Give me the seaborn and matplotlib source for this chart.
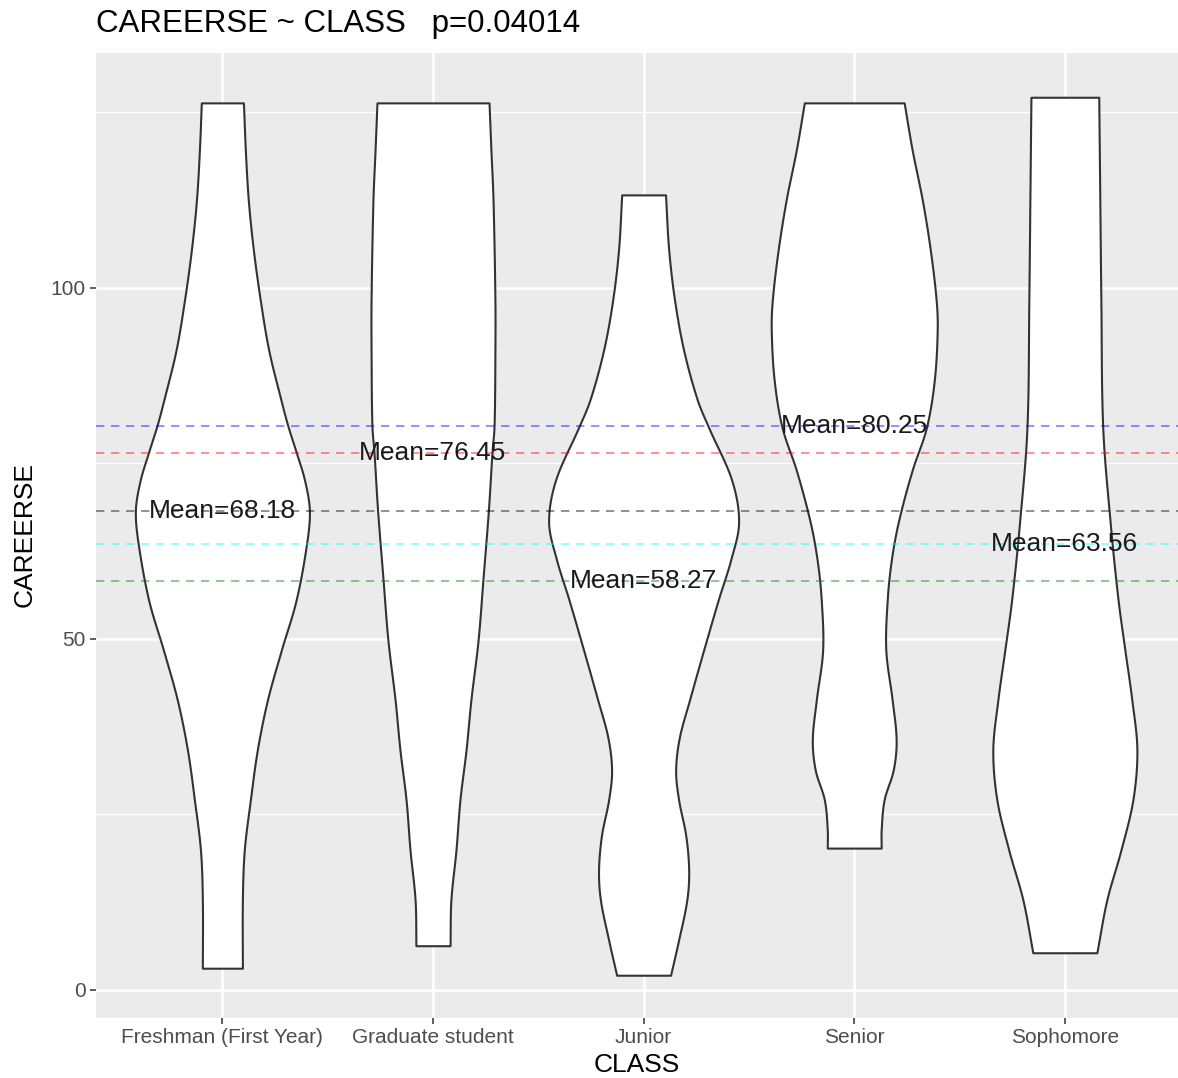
import numpy as np
import pandas as pd
import matplotlib
matplotlib.use("Agg")
import matplotlib.pyplot as plt
from matplotlib.ticker import FixedLocator
import seaborn as sns

# Groups, group means and the colour of each mean line
classes = ["Freshman (First Year)", "Graduate student", "Junior", "Senior", "Sophomore"]
means = [68.18, 76.45, 58.27, 80.25, 63.56]
mean_colors = ["black", "red", "green", "blue", "cyan"]
p_value = 0.04014

# Violin outlines: CAREERSE level and half-width (in category units) at that level
fresh_y = [3.1, 12.8, 19.9, 27.1, 34.2, 41.3, 48.4, 55.5, 63.6, 68.3, 72.6, 76.6, 80.4, 84.0, 91.1, 98.2, 105.4, 112.5, 119.6, 126.3]
fresh_w = [0.095, 0.095, 0.104, 0.133, 0.166, 0.214, 0.280, 0.350, 0.400, 0.413, 0.390, 0.350, 0.310, 0.278, 0.220, 0.180, 0.147, 0.123, 0.109, 0.100]

grad_y = [6.3, 12.8, 19.9, 27.1, 34.2, 41.3, 49.8, 58.4, 68.3, 76.5, 80.4, 91.1, 98.2, 112.5, 119.6, 126.3]
grad_w = [0.081, 0.085, 0.109, 0.128, 0.157, 0.180, 0.214, 0.237, 0.263, 0.280, 0.290, 0.294, 0.294, 0.285, 0.275, 0.266]

junior_y = [2.1, 7.1, 12.8, 17.0, 22.0, 27.1, 31.3, 36.0, 41.3, 48.4, 55.7, 61.2, 66.6, 72.6, 80.0, 84.0, 91.1, 98.2, 105.4, 113.2]
junior_w = [0.128, 0.166, 0.205, 0.214, 0.200, 0.166, 0.152, 0.170, 0.218, 0.285, 0.356, 0.413, 0.451, 0.418, 0.310, 0.255, 0.190, 0.147, 0.119, 0.104]

senior_y = [20.2, 22.8, 27.1, 31.3, 35.6, 41.3, 48.4, 55.7, 61.2, 66.6, 74.0, 80.0, 86.8, 94.0, 98.2, 105.4, 112.5, 119.6, 126.3]
senior_w = [0.128, 0.128, 0.142, 0.185, 0.199, 0.180, 0.150, 0.157, 0.176, 0.209, 0.275, 0.342, 0.380, 0.394, 0.389, 0.361, 0.323, 0.275, 0.237]

soph_y = [5.3, 12.8, 19.9, 27.1, 34.2, 41.3, 48.4, 55.7, 66.6, 80.0, 98.2, 112.5, 127.1]
soph_w = [0.152, 0.199, 0.266, 0.323, 0.342, 0.318, 0.285, 0.252, 0.215, 0.180, 0.171, 0.166, 0.161]

profiles = pd.concat([
    pd.DataFrame({"CLASS": name, "CAREERSE": y, "half_width": w})
    for name, y, w in [
        (classes[0], fresh_y, fresh_w),
        (classes[1], grad_y, grad_w),
        (classes[2], junior_y, junior_w),
        (classes[3], senior_y, senior_w),
        (classes[4], soph_y, soph_w),
    ]
], ignore_index=True)


def smooth_outline(y, w, n=400):
    """Cubic Hermite curve through the outline points, for a rounded violin edge."""
    y = np.asarray(y, float)
    w = np.asarray(w, float)
    m = np.empty_like(w)
    m[1:-1] = (w[2:] - w[:-2]) / (y[2:] - y[:-2])
    m[0] = (w[1] - w[0]) / (y[1] - y[0])
    m[-1] = (w[-1] - w[-2]) / (y[-1] - y[-2])
    yy = np.linspace(y[0], y[-1], n)
    k = np.clip(np.searchsorted(y, yy, side="right") - 1, 0, len(y) - 2)
    h = y[k + 1] - y[k]
    t = (yy - y[k]) / h
    h00 = 2 * t**3 - 3 * t**2 + 1
    h10 = t**3 - 2 * t**2 + t
    h01 = -2 * t**3 + 3 * t**2
    h11 = t**3 - t**2
    ww = h00 * w[k] + h10 * h * m[k] + h01 * w[k + 1] + h11 * h * m[k + 1]
    return yy, ww


# ggplot-like grey theme
sns.set_theme(style="darkgrid", rc={
    "axes.facecolor": "#EBEBEB",
    "figure.facecolor": "white",
    "grid.color": "white",
    "axes.edgecolor": "#EBEBEB",
})
plt.rcParams["font.family"] = ["Liberation Sans", "DejaVu Sans"]

W, H = 1178, 1078
fig = plt.figure(figsize=(W / 100, H / 100), dpi=100)
ax = fig.add_axes([96 / W, 60 / H, 1 - 96 / W, (1018 - 53) / H])

# Violins
for i, name in enumerate(classes):
    d = profiles[profiles["CLASS"] == name]
    yy, ww = smooth_outline(d["CAREERSE"], d["half_width"])
    ax.fill_betweenx(yy, i - ww, i + ww, facecolor="white", edgecolor="#333333",
                     linewidth=1.5, zorder=2)

# Mean reference lines and labels
for m, c in zip(means, mean_colors):
    ax.axhline(m, color=c, linestyle=(0, (5, 4)), linewidth=1.2, alpha=0.5, zorder=3)
for i, m in enumerate(means):
    ax.text(i, m, f"Mean={m:.2f}", ha="center", va="center", fontsize=19,
            color="#1A1A1A", zorder=4)

ax.set_xlim(-0.6, 4 + (W - 1064.8) / 210.7)
ax.set_ylim(-3.99, 133.4)
ax.set_xticks(range(len(classes)))
ax.set_xticklabels(classes)
ax.set_yticks([0, 50, 100])
ax.yaxis.set_minor_locator(FixedLocator([25, 75, 125]))
ax.grid(which="major", color="white", linewidth=1.8, zorder=0)
ax.grid(which="minor", axis="y", color="white", linewidth=0.9, zorder=0)
ax.set_axisbelow(True)
for s in ax.spines.values():
    s.set_visible(False)
ax.tick_params(axis="both", which="major", length=4.5, width=1.1, color="#333333",
               labelcolor="#4D4D4D", labelsize=15, pad=3, bottom=True, left=True)
ax.tick_params(which="minor", length=0)
ax.set_xlabel("")
ax.set_ylabel("")

fig.text(96 / W, 1 - 24 / H, f"CAREERSE ~ CLASS   p={p_value}", fontsize=22.5,
         ha="left", va="center", color="black")
fig.text((96 + W) / 2 / W, 1 - 1065 / H, "CLASS", fontsize=19, ha="center",
         va="center", color="black")
fig.text(25 / W, 1 - 535 / H, "CAREERSE", fontsize=19, rotation=90, ha="center",
         va="center", color="black")

fig.savefig("out.png", dpi=100)
